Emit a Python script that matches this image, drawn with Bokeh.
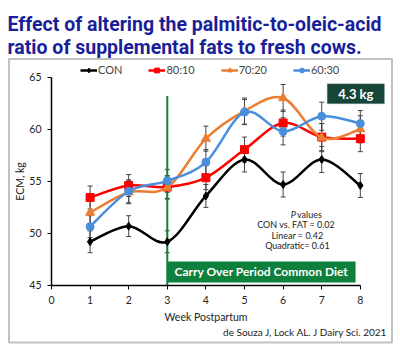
from bokeh.plotting import figure
from bokeh.models import (Range1d, FixedTicker, Label, BoxAnnotation, Legend,
                          LegendItem, ColumnDataSource, Whisker, TeeHead, LinearAxis)
from bokeh.embed import file_html
from bokeh.resources import INLINE

# ---------------- data ----------------
weeks = [1, 2, 3, 4, 5, 6, 7, 8]
series_names = ["CON", "80:10", "70:20", "60:30"]
con = [49.2, 50.7, 49.2, 53.6, 57.1, 54.7, 57.1, 54.6]
r80_10 = [53.45, 54.6, 54.45, 55.35, 58.05, 60.6, 59.25, 59.1]
r70_20 = [52.0, 53.95, 54.4, 59.1, 61.75, 63.0, 59.2, 60.0]
r60_30 = [50.65, 54.05, 55.05, 56.85, 61.65, 59.8, 61.25, 60.55]
se_con = [1.05, 1.0, 1.05, 1.1, 1.2, 1.2, 1.25, 1.15]
se_80_10 = [1.1, 1.05, 1.1, 1.15, 1.2, 1.25, 1.3, 1.25]
se_70_20 = [1.1, 1.1, 1.1, 1.2, 1.25, 1.3, 1.35, 1.3]
se_60_30 = [1.05, 1.1, 1.1, 1.2, 1.2, 1.3, 1.35, 1.25]
x_ticks = [0, 1, 2, 3, 4, 5, 6, 7, 8]
y_ticks = [45, 50, 55, 60, 65]
transition_week = 3
transition_top = 63.2
diff_label = "4.3 kg"
period_label = "Carry Over Period Common Diet"
p_lines = ["CON vs. FAT  = 0.02", "Linear = 0.42", "Quadratic= 0.61"]
title_lines = ["Effect of altering the palmitic-to-oleic-acid",
               "ratio of supplemental fats to fresh cows."]
citation = "de Souza J, Lock AL. J Dairy Sci. 2021"

colors = ["#000000", "#FF0000", "#ED7D31", "#4A8FDC"]
markers = ["diamond", "square", "triangle", "circle"]
sizes = [8, 8, 9, 8]
values_all = [con, r80_10, r70_20, r60_30]
ses_all = [se_con, se_80_10, se_70_20, se_60_30]

FONT = "Lato"

# frame covers the whole canvas; x=0 at px 51 (38.6 px/week), y=65 at px 76.7 (10.415 px/kg)
p = figure(width=400, height=350, output_backend="svg", toolbar_location=None,
           x_range=Range1d(-1.321, 9.041), y_range=Range1d(38.759, 72.364),
           min_border=0, x_axis_location=None, y_axis_location=None)
p.grid.visible = False
p.outline_line_color = None
p.background_fill_color = "white"
p.border_fill_color = "white"

# outer chart box
p.add_layout(BoxAnnotation(left=-1.101, right=8.821, bottom=39.527, top=66.747,
                           fill_alpha=0, line_color="#333333", line_width=2))

xa = LinearAxis(fixed_location=45, bounds=(0, 8), ticker=FixedTicker(ticks=x_ticks),
                axis_label="Week Postpartum")
ya = LinearAxis(fixed_location=0, bounds=(45, 65), ticker=FixedTicker(ticks=y_ticks),
                axis_label="ECM, kg")
for ax in (xa, ya):
    ax.axis_line_color = "#000000"
    ax.axis_line_width = 1.5
    ax.major_tick_line_color = "#000000"
    ax.major_tick_out = 4
    ax.major_tick_in = 0
    ax.minor_tick_line_color = None
    ax.major_label_text_font = FONT
    ax.major_label_text_font_size = "10.5px"
    ax.major_label_text_color = "#222222"
    ax.axis_label_text_font = FONT
    ax.axis_label_text_font_size = "10.5px"
    ax.axis_label_text_font_style = "normal"
    ax.axis_label_text_color = "#222222"
xa.major_label_standoff = 7
xa.axis_label_standoff = 3
ya.major_label_standoff = 6
ya.axis_label_standoff = 0
p.add_layout(xa, "below")
p.add_layout(ya, "left")

# green box for carry-over period
p.add_layout(BoxAnnotation(left=transition_week, right=7.876, bottom=45.29, top=47.3,
                           fill_color="#0F7F3C", fill_alpha=1, line_color=None))
p.add_layout(Label(x=(transition_week + 7.876) / 2, y=46.3, text=period_label,
                   text_align="center", text_baseline="middle", text_color="white",
                   text_font=FONT, text_font_style="bold", text_font_size="12px"))

# transition line
p.segment(x0=[transition_week], y0=[45], x1=[transition_week], y1=[transition_top],
          line_color="#0F7F3C", line_width=2)


def smooth(xs, ys):
    n = len(xs)
    out = dict(x0=[], y0=[], x1=[], y1=[], cx0=[], cy0=[], cx1=[], cy1=[])
    for i in range(n - 1):
        a = i - 1 if i > 0 else i
        d = i + 2 if i + 2 < n else i + 1
        out["x0"].append(xs[i]); out["y0"].append(ys[i])
        out["x1"].append(xs[i + 1]); out["y1"].append(ys[i + 1])
        out["cx0"].append(xs[i] + (xs[i + 1] - xs[a]) / 6)
        out["cy0"].append(ys[i] + (ys[i + 1] - ys[a]) / 6)
        out["cx1"].append(xs[i + 1] - (xs[d] - xs[i]) / 6)
        out["cy1"].append(ys[i + 1] - (ys[d] - ys[i]) / 6)
    return out


items = []
for name, vals, ses, col, mk, sz in zip(series_names, values_all, ses_all, colors, markers, sizes):
    src = ColumnDataSource(dict(x=weeks, y=vals,
                                lo=[v - s for v, s in zip(vals, ses)],
                                hi=[v + s for v, s in zip(vals, ses)]))
    p.add_layout(Whisker(base="x", lower="lo", upper="hi", source=src,
                         line_color="#444444", line_width=1,
                         upper_head=TeeHead(size=5, line_color="#444444", line_width=1),
                         lower_head=TeeHead(size=5, line_color="#444444", line_width=1)))
    bsrc = ColumnDataSource(smooth(weeks, vals))
    br = p.bezier(x0="x0", y0="y0", x1="x1", y1="y1", cx0="cx0", cy0="cy0", cx1="cx1",
                  cy1="cy1", source=bsrc, line_color=col, line_width=2.5)
    sr = p.scatter("x", "y", source=src, marker=mk, size=sz, fill_color=col, line_color=col)
    items.append(LegendItem(label=name, renderers=[br, sr]))

leg = Legend(items=items, orientation="horizontal", location=(80, 274),
             padding=0, margin=0, spacing=26, glyph_width=17, glyph_height=12,
             label_standoff=1, label_text_font=FONT, label_text_font_size="11px",
             label_height=12, border_line_color=None, background_fill_alpha=0)
p.add_layout(leg, "center")

# 4.3 kg box
p.add_layout(BoxAnnotation(left=7.142, right=8.627, bottom=62.45, top=64.37,
                           fill_color="#18453A", fill_alpha=1, line_color="#9DB3AC",
                           line_width=1))
p.add_layout(Label(x=(7.142 + 8.627) / 2, y=63.41, text=diff_label, text_align="center",
                   text_baseline="middle", text_color="white", text_font=FONT,
                   text_font_style="bold", text_font_size="13px"))

# P values
p.add_layout(Label(x=6.33, y=51.82, text="P", text_align="right", text_baseline="middle",
                   text_font=FONT, text_font_style="italic", text_font_size="9px",
                   text_color="#222222"))
p.add_layout(Label(x=6.36, y=51.82, text="values", text_align="left", text_baseline="middle",
                   text_font=FONT, text_font_size="9px", text_color="#222222"))
for i, t in enumerate(p_lines):
    p.add_layout(Label(x=6.37, y=50.82 - i * 0.99, text=t, text_align="center",
                       text_baseline="middle", text_font=FONT, text_font_size="9px",
                       text_color="#222222"))

# citation
p.add_layout(Label(x=8.705, y=40.54, text=citation, text_align="right",
                   text_baseline="middle", text_font=FONT, text_font_size="10px",
                   text_color="#222222"))

# title (screen units: x from left, y up from bottom of canvas)
for i, t in enumerate(title_lines):
    p.add_layout(Label(x=7, y=326.5 - i * 23, x_units="screen", y_units="screen", text=t,
                       text_align="left", text_baseline="alphabetic",
                       text_font="Roboto", text_font_style="bold",
                       text_font_size="19.5px", text_color="#1A1F99"))

open("out.html", "w").write(file_html(p, INLINE))
